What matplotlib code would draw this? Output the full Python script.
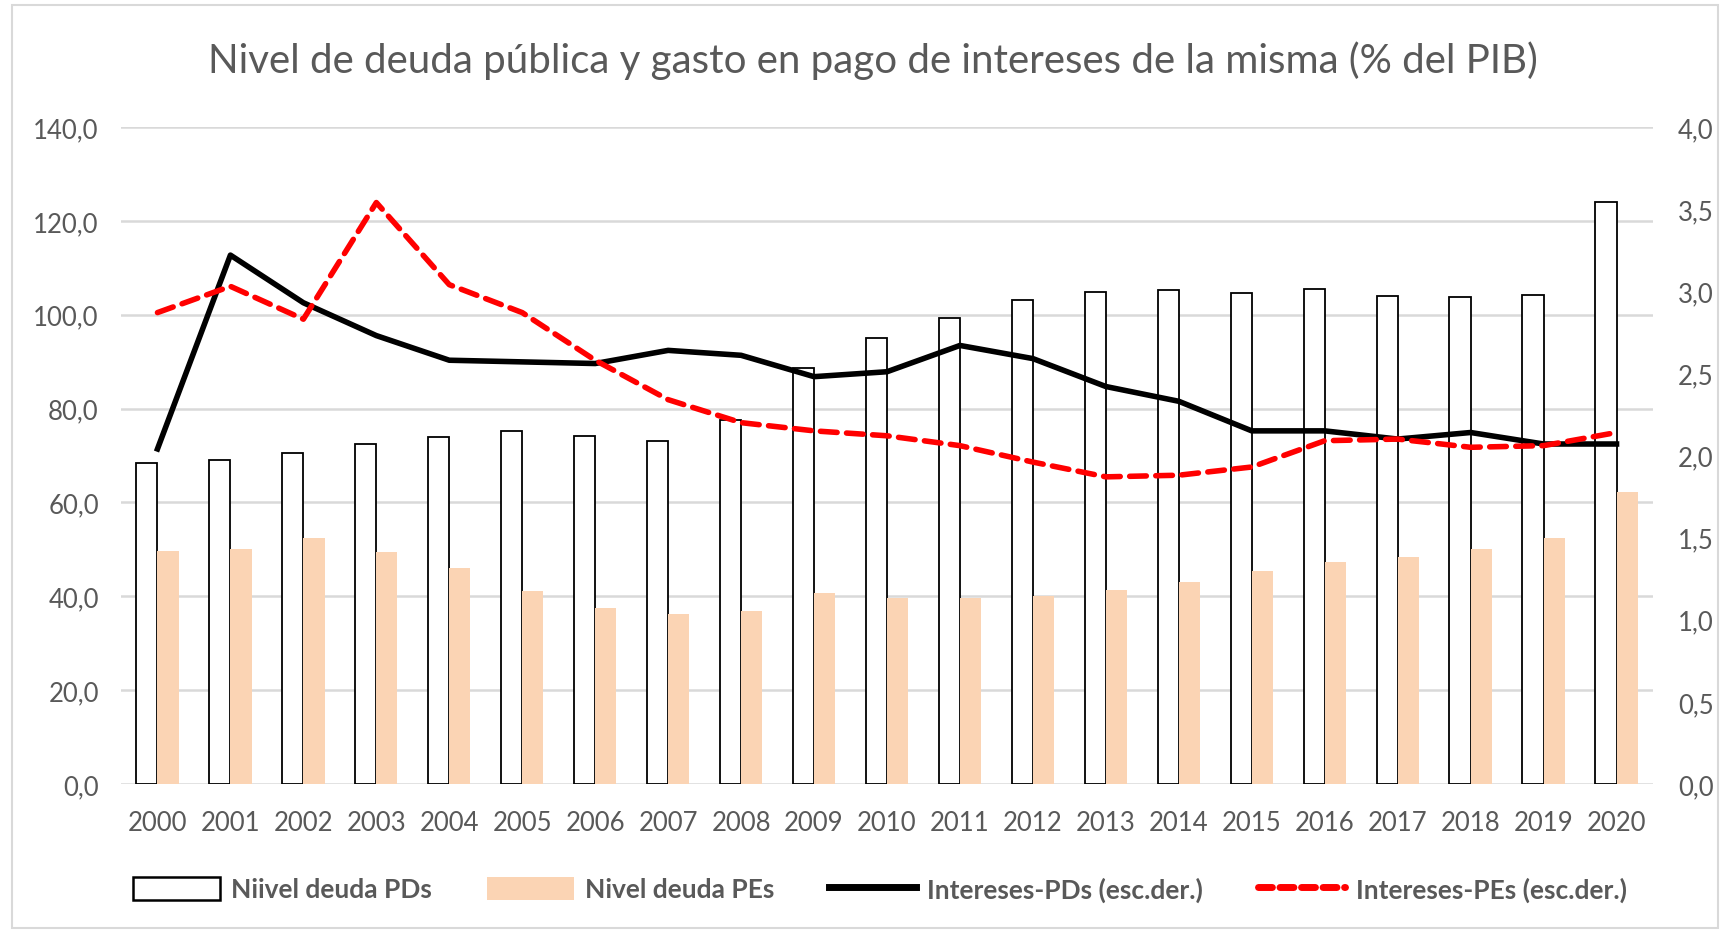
import numpy as np
import matplotlib
matplotlib.use('Agg')
import matplotlib.pyplot as plt
from matplotlib.lines import Line2D
from matplotlib.patches import Patch, Rectangle

plt.rcParams['font.family'] = ['Lato', 'DejaVu Sans']

# ================= Data =================
years = [str(y) for y in range(2000, 2021)]
deuda_pds = [68.4, 69.0, 70.5, 72.4, 73.9, 75.2, 74.2, 73.0, 77.6, 88.7, 95.1,
             99.3, 103.1, 104.9, 105.3, 104.6, 105.4, 104.0, 103.8, 104.3, 124.1]
deuda_pes = [49.6, 50.0, 52.5, 49.5, 46.0, 41.2, 37.5, 36.2, 36.8, 40.8, 39.6,
             39.6, 40.0, 41.3, 43.1, 45.4, 47.2, 48.3, 50.0, 52.5, 62.3]
intereses_pds = [2.04, 3.22, 2.93, 2.73, 2.58, 2.57, 2.56, 2.64, 2.61, 2.48, 2.51,
                 2.67, 2.59, 2.42, 2.33, 2.15, 2.15, 2.10, 2.14, 2.07, 2.07]
intereses_pes = [2.87, 3.03, 2.83, 3.54, 3.04, 2.87, 2.58, 2.34, 2.20, 2.15, 2.12,
                 2.06, 1.96, 1.87, 1.88, 1.93, 2.09, 2.10, 2.05, 2.06, 2.14]

title = "Nivel de deuda pública y gasto en pago de intereses de la misma (% del PIB)"
labels = ["Niivel deuda PDs", "Nivel deuda PEs",
          "Intereses-PDs (esc.der.)", "Intereses-PEs (esc.der.)"]

gray_txt = '#595959'
peach = '#FBD4B4'
grid_col = '#D9D9D9'


def comma(v, _=None):
    return f"{v:.1f}".replace('.', ',')


# ================= Figure =================
W, H = 1726, 937
fig = plt.figure(figsize=(W / 100, H / 100), dpi=100)
fig.patches.append(Rectangle((12 / W, 8 / H), 1 - 20 / W, 1 - 14 / H, transform=fig.transFigure,
                             fill=False, edgecolor='#D9D9D9', linewidth=1.5))

ax = fig.add_axes([121 / W, 1 - 785 / H, (1653 - 121) / W, (785 - 128) / H])
x = np.arange(len(years))
bw = 0.29
ax.bar(x - bw / 2, deuda_pds, width=bw, facecolor='white', edgecolor='black', linewidth=1.3, zorder=2)
ax.bar(x + bw / 2, deuda_pes, width=bw, color=peach, zorder=2)

ax.set_xlim(-0.5, len(years) - 0.5)
ax.set_ylim(0, 140)
ax.set_yticks(np.arange(0, 141, 20))
ax.yaxis.set_major_formatter(comma)
ax.set_xticks(x)
ax.set_xticklabels(years)
ax.grid(axis='y', color=grid_col, linewidth=1.8)
ax.set_axisbelow(True)
for s in ax.spines.values():
    s.set_visible(False)
ax.tick_params(axis='both', length=0, labelsize=18.5, labelcolor=gray_txt)
ax.tick_params(axis='y', pad=16)
ax.tick_params(axis='x', pad=19)

ax2 = ax.twinx()
ax2.plot(x, intereses_pds, color='black', linewidth=4.0, solid_joinstyle='round', zorder=3)
ax2.plot(x, intereses_pes, color='#FF0000', linewidth=4.0, linestyle=(0, (3.0, 1.7)),
         dash_capstyle='round', zorder=4)
ax2.set_ylim(0, 4.0)
ax2.set_yticks(np.arange(0, 4.01, 0.5))
ax2.yaxis.set_major_formatter(comma)
for s in ax2.spines.values():
    s.set_visible(False)
ax2.tick_params(axis='y', length=0, labelsize=18.5, labelcolor=gray_txt, pad=18)

fig.text(873 / W, 1 - 61 / H, title, ha='center', va='center', fontsize=29, color=gray_txt)

handles = [Patch(facecolor='white', edgecolor='black', linewidth=1.8),
           Patch(facecolor=peach, edgecolor='none'),
           Line2D([], [], color='black', linewidth=5),
           Line2D([], [], color='#FF0000', linewidth=5, linestyle=(0, (2.0, 1.1)), dash_capstyle='round')]
leg = fig.legend(handles, labels, loc='center', bbox_to_anchor=(880 / W, 1 - 890 / H), ncol=4,
                 frameon=False, fontsize=19, handlelength=3.3, handleheight=1.0,
                 handletextpad=0.4, columnspacing=2.1)
for t in leg.get_texts():
    t.set_color(gray_txt)
    t.set_fontweight('bold')

fig.savefig('out.png', dpi=100)
